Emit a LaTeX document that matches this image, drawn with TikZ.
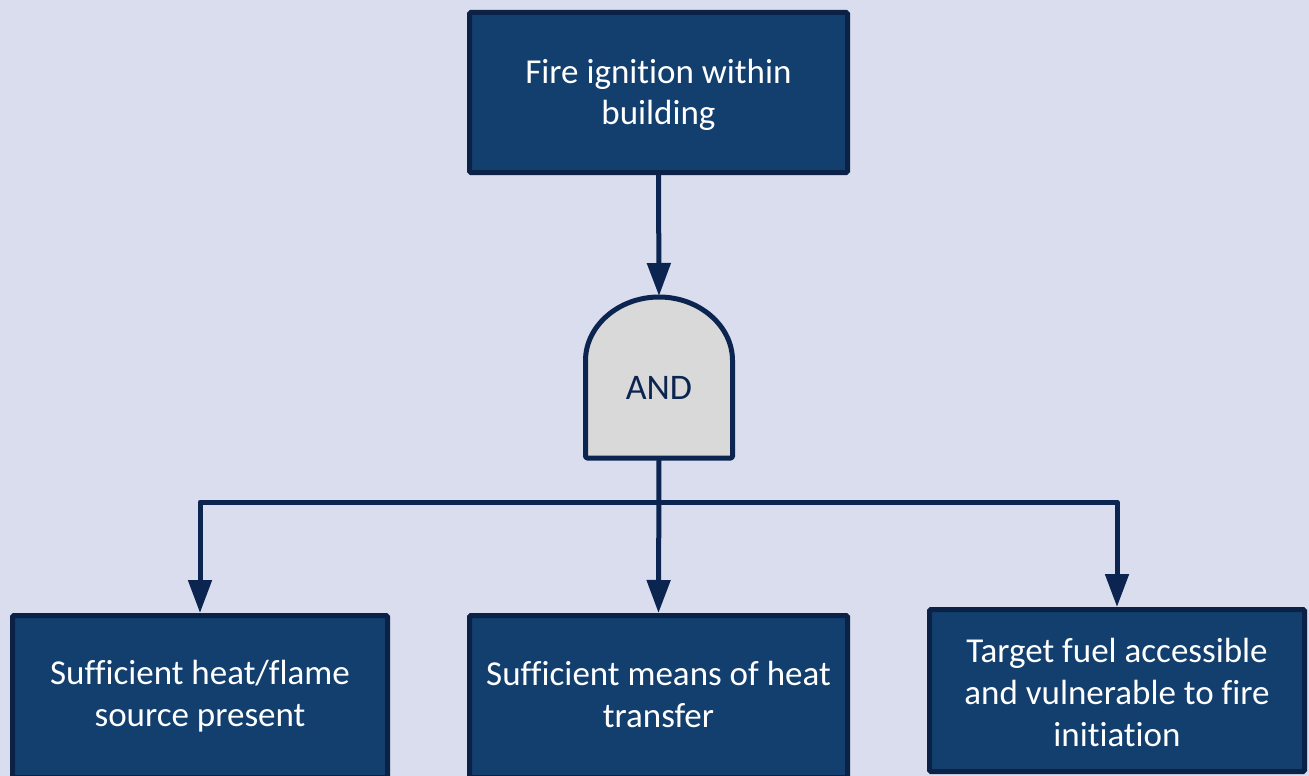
\documentclass[tikz,border=0pt]{standalone}
\usepackage{fontspec}
\setmainfont[Ligatures={NoCommon,NoContextual},Contextuals=NoAlternate]{Carlito}
\usetikzlibrary{arrows.meta}
\definecolor{bgcol}{HTML}{D9DDEE}
\definecolor{boxfill}{HTML}{133F6F}
\definecolor{boxline}{HTML}{0B2246}
\definecolor{linecol}{HTML}{0C2550}
\definecolor{gatefill}{HTML}{D9D9D9}
\newcommand\sTop{\rule{0pt}{26pt}}
\newcommand\sBot{\rule[-9pt]{0pt}{9pt}}
\newcommand\boxtext[2]{\raisebox{#1}[\height][\depth]{\parbox[c]{370pt}{\centering #2}}}
\tikzset{
  evbox/.style={draw=boxline, fill=boxfill, line width=5pt, rounded corners=1.5pt,
    inner sep=0pt, text=white, align=center,
    font=\fontsize{35}{42}\selectfont},
  gateshape/.style={draw=linecol, fill=gatefill, line width=5pt, line join=round, rounded corners=1.5pt},
  conn/.style={draw=linecol, line width=5pt, line join=round,
    -{Triangle[length=33pt,width=23pt]}}
}
\begin{document}
\begin{tikzpicture}[x=1pt,y=-1pt]
\clip (0,0) rectangle (1309,776);
\fill[bgcol] (0,0) rectangle (1309,776);
\useasboundingbox (0,0) rectangle (1309,776);

\node[evbox, minimum width=378pt, minimum height=160pt] (top) at (658.5,92.5)
  {\boxtext{-3pt}{\sTop Fire ignition within\\building\sBot}};

% AND gate
\coordinate (gtop) at (659,296);
\coordinate (gbot) at (659,458);
\draw[gateshape] (585.5,458) -- (585.5,362) arc[start angle=180, end angle=0, x radius=73.5pt, y radius=65pt] -- (732.5,458) -- cycle;
\node[inner sep=0pt, text=linecol, font=\fontsize{36}{42}\selectfont] (gate) at (659,388) {AND};

\node[evbox, minimum width=375pt, minimum height=162pt] (b1) at (200,696.5)
  {\boxtext{0pt}{\sTop Sufficient heat/flame\\source present\sBot}};
\node[evbox, minimum width=378pt, minimum height=162pt] (b2) at (658.5,696.5)
  {\boxtext{-1pt}{\sTop Sufficient means of heat\\transfer\sBot}};
\node[evbox, minimum width=375pt, minimum height=162pt] (b3) at (1117,690.5)
  {\boxtext{-5pt}{\sTop Target fuel accessible\\and vulnerable to fire\\initiation\sBot}};

\coordinate (split) at (659,502);
\draw[conn] (top.south) -- (gtop);
\draw[conn] (gbot) -- (b2.north);
\draw[conn] (split) -| (b1.north);
\draw[conn] (split) -| (b3.north);
\end{tikzpicture}
\end{document}
